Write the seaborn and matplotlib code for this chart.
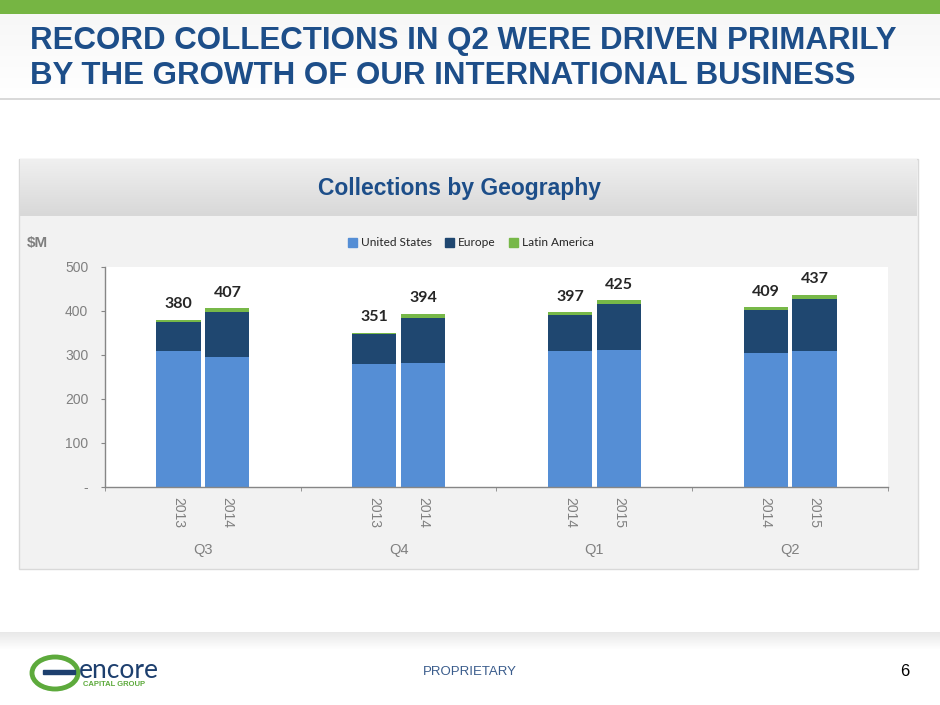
import numpy as np
import pandas as pd
import seaborn as sns
import matplotlib.pyplot as plt
from matplotlib.patches import Rectangle, Ellipse, Patch

# values in $M
quarters = ['Q3', 'Q4', 'Q1', 'Q2']
years = ['2013', '2014', '2013', '2014', '2014', '2015', '2014', '2015']
us = [308, 295, 280, 281, 308, 312, 305, 310]
europe = [68, 103, 68, 104, 82, 105, 97, 118]
latam = [4, 9, 3, 9, 7, 8, 7, 9]
totals = [380, 407, 351, 394, 397, 425, 409, 437]
series = ['United States', 'Europe', 'Latin America']
y_ticks = [0, 100, 200, 300, 400, 500]
y_labels = ['-', '100', '200', '300', '400', '500']

c_us = '#558ED5'
c_eu = '#1F4770'
c_la = '#77B848'
title_blue = '#1D4E89'
gray_txt = '#808080'

sns.set_style('white')
plt.rcParams['font.family'] = ['Liberation Sans', 'DejaVu Sans']

W, H = 940, 705
fig = plt.figure(figsize=(9.4, 7.05), dpi=100)
fig.patch.set_facecolor('white')


def px_box(x0, y0, x1, y1):
    # figure-fraction box from pixel corners (top-left origin)
    return [x0 / W, 1 - y1 / H, (x1 - x0) / W, (y1 - y0) / H]


def rect(x0, y0, x1, y1, **kw):
    b = px_box(x0, y0, x1, y1)
    r = Rectangle((b[0], b[1]), b[2], b[3], transform=fig.transFigure, **kw)
    fig.add_artist(r)
    return r


def gradient(x0, y0, x1, y1, top, bottom, z):
    g = fig.add_axes(px_box(x0, y0, x1, y1), zorder=z)
    t = np.array(plt.matplotlib.colors.to_rgb(top))
    b = np.array(plt.matplotlib.colors.to_rgb(bottom))
    f = np.linspace(0, 1, 64)[:, None]
    img = (t * (1 - f) + b * f)[:, None, :]
    g.imshow(img, aspect='auto', extent=(0, 1, 0, 1))
    g.set_axis_off()


# slide decoration
rect(0, 0, W, 14, color='#76B543', zorder=-20, lw=0)
gradient(0, 14, W, 99, '#f7f7f7', '#ffffff', -19)
rect(0, 98, W, 100, color='#d9d9d9', zorder=-18, lw=0)
fig.text(30 / W, 1 - 41 / H, 'RECORD COLLECTIONS IN Q2 WERE DRIVEN PRIMARILY',
         fontsize=22.5, fontweight='bold', color=title_blue, va='center', ha='left')
fig.text(30 / W, 1 - 76 / H, 'BY THE GROWTH OF OUR INTERNATIONAL BUSINESS',
         fontsize=22.5, fontweight='bold', color=title_blue, va='center', ha='left')

# chart panel
rect(19, 159, 918, 569, facecolor='#f2f2f2', edgecolor='#d9d9d9', lw=1, zorder=-15)
gradient(20, 159, 917, 216, '#f0f0f0', '#d8d8d8', -14)
fig.text(460 / W, 1 - 188 / H, 'Collections by Geography', fontsize=16.5,
         fontweight='bold', color=title_blue, ha='center', va='center')
fig.text(27 / W, 1 - 243 / H, '$M', fontsize=11, fontweight='bold',
         color='#7f7f7f', ha='left', va='center')

# footer shadow and texts
for i, a in enumerate(np.linspace(0.22, 0.0, 18)):
    rect(0, 632 + i, W, 633 + i, color='#9a9a9a', alpha=a, lw=0, zorder=-12)
fig.text(470 / W, 1 - 672 / H, 'PROPRIETARY', fontsize=9.5, color='#3A5C8C',
         ha='center', va='center')
fig.text(905 / W, 1 - 672 / H, '6', fontsize=12, color='black',
         ha='center', va='center')
fig.add_artist(Ellipse((55 / W, 1 - 673 / H), 46 / W, 32 / H, transform=fig.transFigure,
                       facecolor='white', edgecolor='#5DAA3C', lw=3.5, zorder=2))
fig.add_artist(Rectangle((43 / W, 1 - 674 / H), 32 / W, 4 / H, transform=fig.transFigure,
                         color='#1d3f6e', zorder=3))
fig.text(79 / W, 1 - 670 / H, 'encore', fontsize=19, color='#1d3f6e',
         family=['Lato', 'DejaVu Sans'], ha='left', va='center')
fig.text(83 / W, 1 - 685 / H, 'CAPITAL GROUP', fontsize=5.5, fontweight='bold',
         color='#5DAA3C', ha='left', va='center')

# main chart
ax = fig.add_axes(px_box(105, 267, 888, 487), zorder=0)
ax.set_facecolor('white')

grp = np.repeat(np.arange(len(quarters)), 2)
off = np.tile([-0.125, 0.125], len(quarters))
df = pd.DataFrame({'pos': grp + off, 'year': years, 'us': us,
                   'eu_top': np.add(us, europe),
                   'la_top': np.add(np.add(us, europe), latam), 'total': totals})

common = dict(data=df, x='pos', native_scale=True, width=0.905,
              saturation=1, errorbar=None, ax=ax, linewidth=0)
sns.barplot(y='la_top', color=c_la, **common)
sns.barplot(y='eu_top', color=c_eu, **common)
sns.barplot(y='us', color=c_us, **common)

for p, t in zip(df['pos'], df['total']):
    ax.annotate(f'{t}', (p, t), xytext=(0, 6), textcoords='offset points',
                ha='center', va='bottom', fontsize=11.5, fontweight='bold',
                color='#262626', family=['Lato', 'DejaVu Sans'])

ax.set_xlim(-0.5, len(quarters) - 0.5)
ax.set_ylim(0, 500)
ax.set_yticks(y_ticks)
ax.set_yticklabels(y_labels)
ax.set_xticks(df['pos'])
ax.set_xticklabels(years, rotation=-90)
ax.set_xticks(np.arange(len(quarters) + 1) - 0.5, minor=True)
ax.tick_params(axis='y', direction='out', length=3, color='#868686', left=True,
               pad=9, labelsize=10, labelcolor=gray_txt)
ax.tick_params(axis='x', which='major', length=0, pad=7, labelsize=10,
               labelcolor=gray_txt)
ax.tick_params(axis='x', which='minor', direction='out', length=3,
               color='#868686', bottom=True)
ax.set_xlabel('')
ax.set_ylabel('')
for s in ['top', 'right']:
    ax.spines[s].set_visible(False)
for s in ['left', 'bottom']:
    ax.spines[s].set_color('#868686')
    ax.spines[s].set_linewidth(1)

for i, q in enumerate(quarters):
    ax.text(i, -0.286, q, transform=ax.get_xaxis_transform(), ha='center',
            va='center', fontsize=10.5, color=gray_txt)

handles = [Patch(color=c) for c in (c_us, c_eu, c_la)]
fig.legend(handles, series, loc='center', bbox_to_anchor=(471 / W, 1 - 243 / H),
           ncol=3, frameon=False, handlelength=0.75, handleheight=0.75,
           handletextpad=0.35, columnspacing=1.1,
           prop={'family': ['Lato', 'DejaVu Sans'], 'size': 8.6})

fig.savefig('out.png', dpi=100)
